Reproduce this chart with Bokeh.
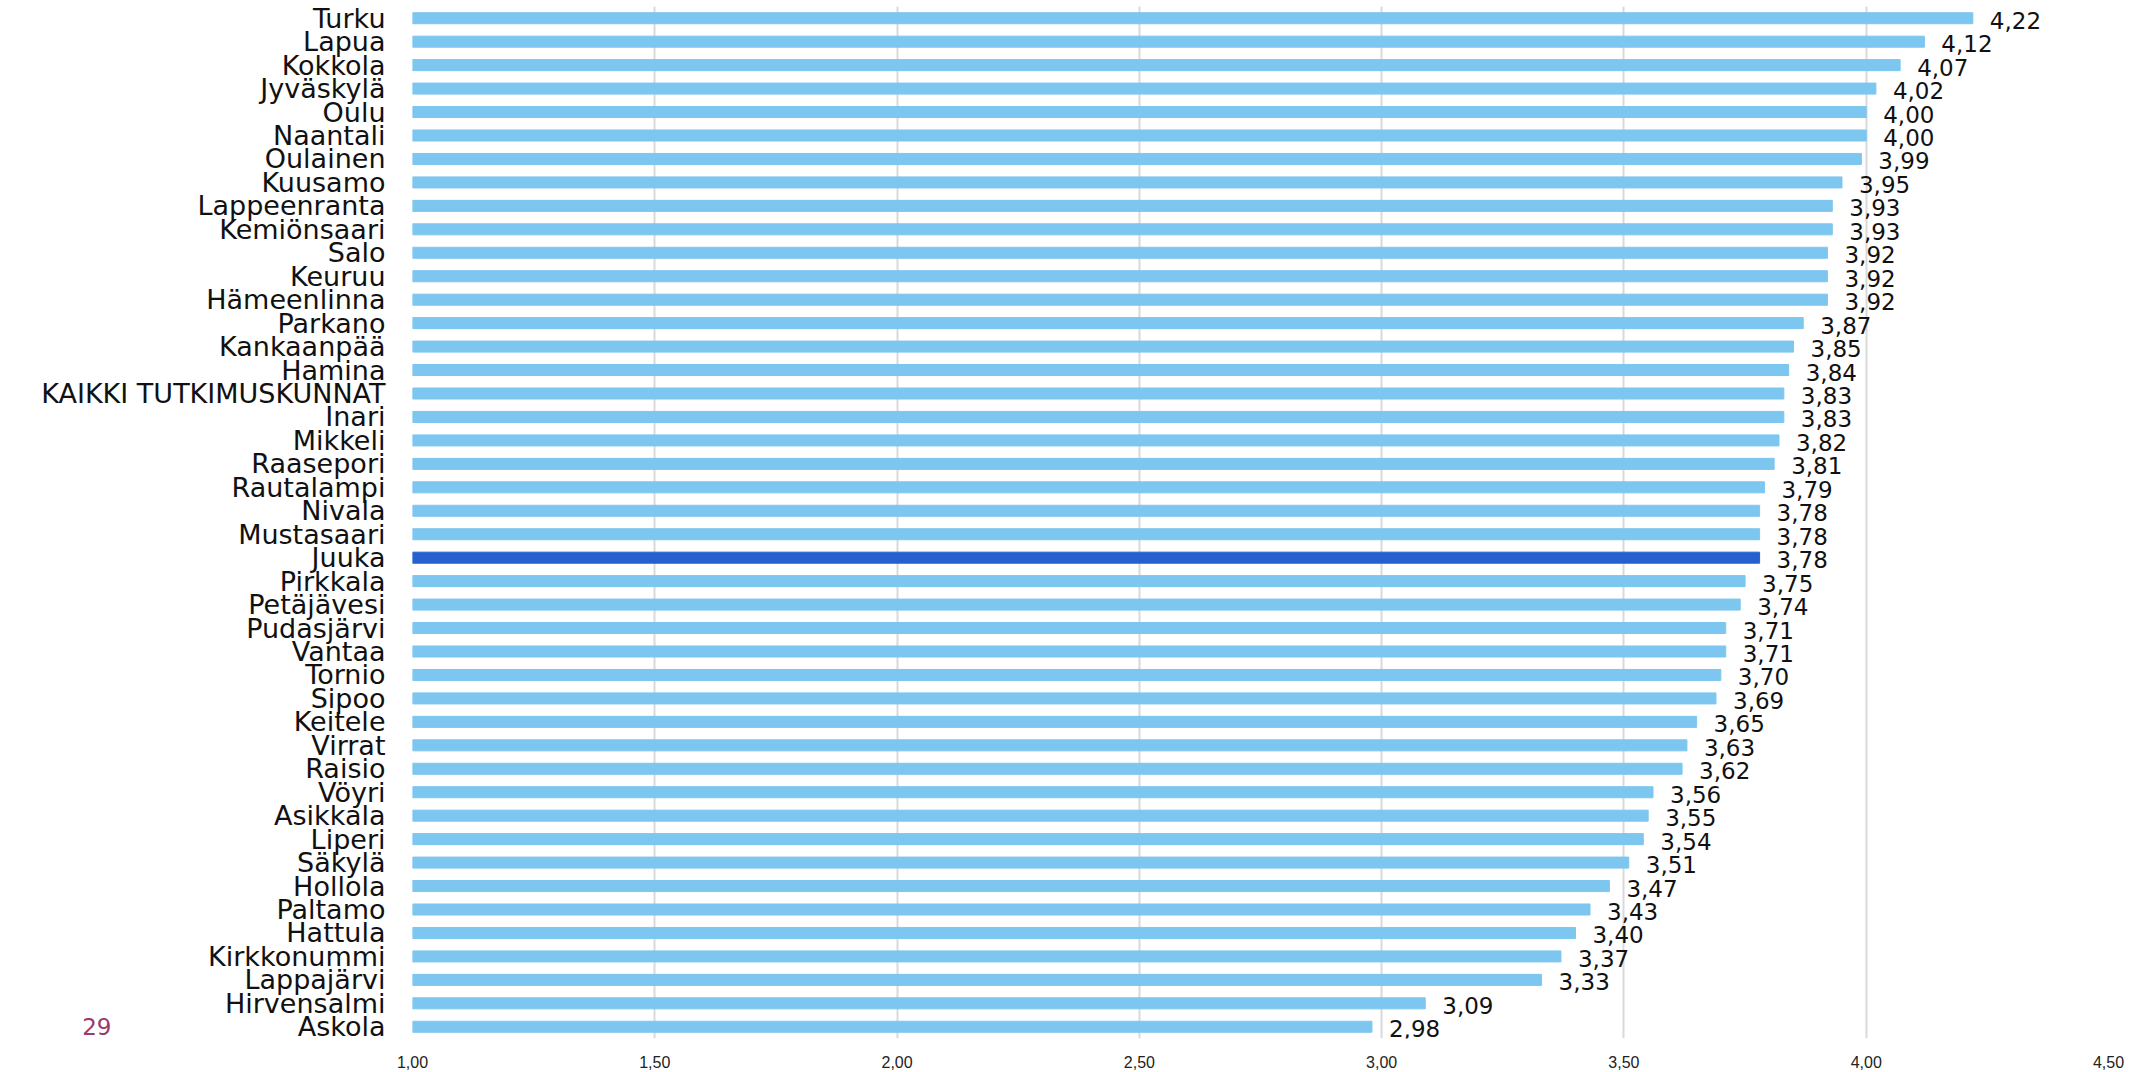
from bokeh.plotting import figure
from bokeh.models import (Range1d, FactorRange, FixedTicker, CustomJSTickFormatter, ColumnDataSource,
                          CategoricalAxis)
from bokeh.core.properties import value
from bokeh.embed import file_html
from bokeh.resources import INLINE

cities = ["Turku", "Lapua", "Kokkola", "Jyväskylä", "Oulu", "Naantali", "Oulainen", "Kuusamo",
          "Lappeenranta", "Kemiönsaari", "Salo", "Keuruu", "Hämeenlinna", "Parkano", "Kankaanpää",
          "Hamina", "KAIKKI TUTKIMUSKUNNAT", "Inari", "Mikkeli", "Raasepori", "Rautalampi", "Nivala",
          "Mustasaari", "Juuka", "Pirkkala", "Petäjävesi", "Pudasjärvi", "Vantaa", "Tornio", "Sipoo",
          "Keitele", "Virrat", "Raisio", "Vöyri", "Asikkala", "Liperi", "Säkylä", "Hollola", "Paltamo",
          "Hattula", "Kirkkonummi", "Lappajärvi", "Hirvensalmi", "Askola"]
values = [4.22, 4.12, 4.07, 4.02, 4.00, 4.00, 3.99, 3.95,
          3.93, 3.93, 3.92, 3.92, 3.92, 3.87, 3.85,
          3.84, 3.83, 3.83, 3.82, 3.81, 3.79, 3.78,
          3.78, 3.78, 3.75, 3.74, 3.71, 3.71, 3.70, 3.69,
          3.65, 3.63, 3.62, 3.56, 3.55, 3.54, 3.51, 3.47, 3.43,
          3.40, 3.37, 3.33, 3.09, 2.98]
highlight = "Juuka"
x_ticks = [1.0, 1.5, 2.0, 2.5, 3.0, 3.5, 4.0, 4.5]
page_number = "29"
page_number_row = "Askola"

base_color = "#7DC6F0"
hi_color = "#2660CF"

colors = [hi_color if c == highlight else base_color for c in cities]
labels = [f"{v:.2f}".replace(".", ",") for v in values]
src = ColumnDataSource(dict(city=cities, val=values, color=colors, label=labels,
                            left=[x_ticks[0]] * len(cities)))

p = figure(width=2141, height=1072, output_backend="svg", toolbar_location=None,
           y_range=FactorRange(factors=list(reversed(cities)), range_padding=0),
           x_range=Range1d(x_ticks[0], x_ticks[-1]),
           min_border_left=412, min_border_right=33, min_border_top=6, min_border_bottom=34)
p.outline_line_color = None

p.hbar(y="city", left="left", right="val", height=0.47, color="color", source=src)
p.text(x="val", y="city", text="label", source=src, x_offset=17, y_offset=2,
       text_baseline="middle", text_align="left", text_font=value("DejaVu Sans"),
       text_font_size="23px", text_color="#111111")

p.xgrid.ticker = FixedTicker(ticks=x_ticks)
p.xgrid.grid_line_color = "#d9d9d9"
p.xgrid.grid_line_width = 2
p.ygrid.grid_line_color = None

p.xaxis.ticker = FixedTicker(ticks=x_ticks)
p.xaxis.formatter = CustomJSTickFormatter(code="return tick.toFixed(2).replace('.', ',');")
p.xaxis.axis_line_color = None
p.xaxis.major_tick_line_color = None
p.xaxis.minor_tick_line_color = None
p.xaxis.major_tick_out = 0
p.xaxis.major_label_standoff = 17
p.xaxis.major_label_text_font = "Liberation Sans"
p.xaxis.major_label_text_font_size = "16px"
p.xaxis.major_label_text_color = "#222222"

p.yaxis.axis_line_color = None
p.yaxis.major_tick_line_color = None
p.yaxis.minor_tick_line_color = None
p.yaxis.major_tick_out = 0
p.yaxis.major_label_standoff = 27
p.yaxis.major_label_text_font = "DejaVu Sans"
p.yaxis.major_label_text_font_size = "27px"
p.yaxis.major_label_text_color = "#111111"

# page number beside its row, drawn by a second categorical axis
ax2 = CategoricalAxis(
    formatter=CustomJSTickFormatter(args=dict(row=page_number_row, txt=page_number),
                                    code="return tick == row ? txt : '';"),
    axis_line_color=None, major_tick_line_color=None, minor_tick_line_color=None,
    major_tick_out=0, major_label_standoff=-73,
    major_label_text_font="DejaVu Sans", major_label_text_font_size="23px",
    major_label_text_color="#9B3A6E")
p.add_layout(ax2, "left")

open("out.html", "w").write(file_html(p, INLINE))
